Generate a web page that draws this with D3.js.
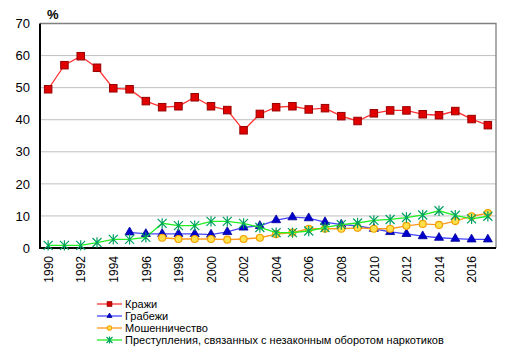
<!DOCTYPE html>
<html><head><meta charset="utf-8">
<script src="https://cdn.jsdelivr.net/npm/d3@7"></script>
<style>body{margin:0;background:#fff}svg{display:block;font-family:"Liberation Sans",Arial,sans-serif}</style>
</head><body>
<svg id="c" width="511" height="353"></svg>
<script>
const years = d3.range(1990, 2018);
const yTicks = [0,10,20,30,40,50,60,70];
const theft = [49.5,57.0,59.8,56.2,49.8,49.5,45.8,43.9,44.2,47.0,44.2,43.0,36.7,41.8,43.9,44.2,43.2,43.6,41.1,39.6,42.0,42.9,42.9,41.7,41.4,42.7,40.2,38.3];
const robbery = [null,null,null,null,null,4.9,4.4,4.4,4.4,4.4,4.2,5.0,6.4,6.9,8.7,9.6,9.3,8.1,7.3,6.9,6.0,5.0,4.4,3.7,3.2,2.9,2.7,2.7];
const fraud = [null,null,null,null,null,null,null,3.2,2.8,2.8,2.8,2.6,2.8,3.2,4.3,4.8,6.0,6.0,6.0,6.3,6.0,6.0,6.9,7.5,7.2,8.4,9.9,10.9];
const drugs = [0.8,0.8,0.8,1.7,2.7,2.7,3.3,7.7,7.0,7.0,8.3,8.3,7.7,6.4,4.8,4.8,5.3,6.4,7.3,7.8,8.6,8.9,9.5,10.3,11.6,10.2,9.1,9.9];
const seriesNames = ["Кражи","Грабежи","Мошенничество","Преступления, связанных с незаконным оборотом наркотиков"];

const series = [
  {name:seriesNames[0], values:theft, line:"#ff3333", fill:"#e00000", stroke:"#990000", marker:"square"},
  {name:seriesNames[1], values:robbery, line:"#4444ff", fill:"#0000cc", stroke:"#000099", marker:"triangle"},
  {name:seriesNames[2], values:fraud, line:"#ff9a1a", fill:"#ffe04d", stroke:"#f5a000", marker:"circle"},
  {name:seriesNames[3], values:drugs, line:"#22ee22", fill:"none", stroke:"#00a060", marker:"star"}
];

const svg = d3.select("#c");
const L=40, R=496, T=23.5, B=248;
const x = d3.scalePoint().domain(years).range([L,R]).padding(0.5);
const y = d3.scaleLinear().domain([0,70]).range([B,T]);

svg.append("g").selectAll("line").data(yTicks.filter(v=>v>0&&v<70)).join("line")
  .attr("x1",L).attr("x2",R).attr("y1",d=>y(d)).attr("y2",d=>y(d))
  .attr("stroke","#c0c0c0").attr("stroke-width",1);
svg.append("path").attr("d",`M${L},${T}H${R}V${B}`).attr("fill","none").attr("stroke","#808080").attr("stroke-width",1.3);

const yAxis = d3.axisLeft(y).tickValues(yTicks).tickSize(0).tickPadding(10);
const gy = svg.append("g").attr("transform",`translate(${L},0)`).call(yAxis);
gy.select(".domain").remove();
gy.selectAll("text").attr("font-size",13).attr("fill","#000").attr("font-family","Liberation Sans, Arial, sans-serif");

const xAxis = d3.axisBottom(x).tickValues(years.filter(v=>v%2===0)).tickSize(0);
const gx = svg.append("g").attr("transform",`translate(0,${B})`).call(xAxis);
gx.select(".domain").remove();
gx.selectAll("text").attr("font-size",12).attr("fill","#000").attr("font-family","Liberation Sans, Arial, sans-serif")
  .attr("transform","rotate(-90)").attr("text-anchor","end").attr("dy","0.35em").attr("x",-8).attr("y",0);

svg.append("path").attr("d",`M${L},${T}V${B}H${R}`).attr("fill","none").attr("stroke","#000").attr("stroke-width",2);

svg.append("text").attr("x",47).attr("y",19).attr("font-size",13).attr("font-weight","bold").attr("fill","#000").text("%");

function marker(g, type, s, fill, stroke){
  if(type==="square"){
    g.append("rect").attr("x",-s/2).attr("y",-s/2).attr("width",s).attr("height",s).attr("fill",fill).attr("stroke",stroke).attr("stroke-width",1);
  } else if(type==="triangle"){
    g.append("path").attr("d",d3.symbol(d3.symbolTriangle, s*s*0.55)()).attr("fill",fill).attr("stroke",stroke).attr("stroke-width",0.8);
  } else if(type==="circle"){
    g.append("circle").attr("r",s/2).attr("fill",fill).attr("stroke",stroke).attr("stroke-width",1.2);
  } else {
    const h=s/2;
    g.append("path").attr("d",`M${-h},${-h}L${h},${h}M${-h},${h}L${h},${-h}M0,${-h*1.15}V${h*1.15}`).attr("stroke",stroke).attr("stroke-width",1.2).attr("fill","none");
  }
}
const sizes = {square:7.5, triangle:8, circle:7, star:9};

series.forEach(s=>{
  const pts = years.map((yr,i)=>({yr, v:s.values[i]})).filter(d=>d.v!==null);
  svg.append("path").datum(pts)
    .attr("d", d3.line().x(d=>x(d.yr)).y(d=>y(d.v)))
    .attr("fill","none").attr("stroke",s.line).attr("stroke-width",1.3);
  pts.forEach(d=>{
    const g = svg.append("g").attr("transform",`translate(${x(d.yr)},${y(d.v)})`);
    marker(g, s.marker, sizes[s.marker], s.fill, s.stroke);
  });
});

const lg = svg.append("g");
series.forEach((s,i)=>{
  const cy = 304 + i*12;
  lg.append("line").attr("x1",97).attr("x2",122).attr("y1",cy).attr("y2",cy).attr("stroke",s.line).attr("stroke-width",1.3);
  const g = lg.append("g").attr("transform",`translate(109.5,${cy})`);
  marker(g, s.marker, s.marker==="star"?6:4.5, s.fill, s.stroke);
  lg.append("text").attr("x",125).attr("y",cy).attr("dy","0.35em").attr("font-size",11).attr("fill","#000").text(s.name);
});
</script>
</body></html>
